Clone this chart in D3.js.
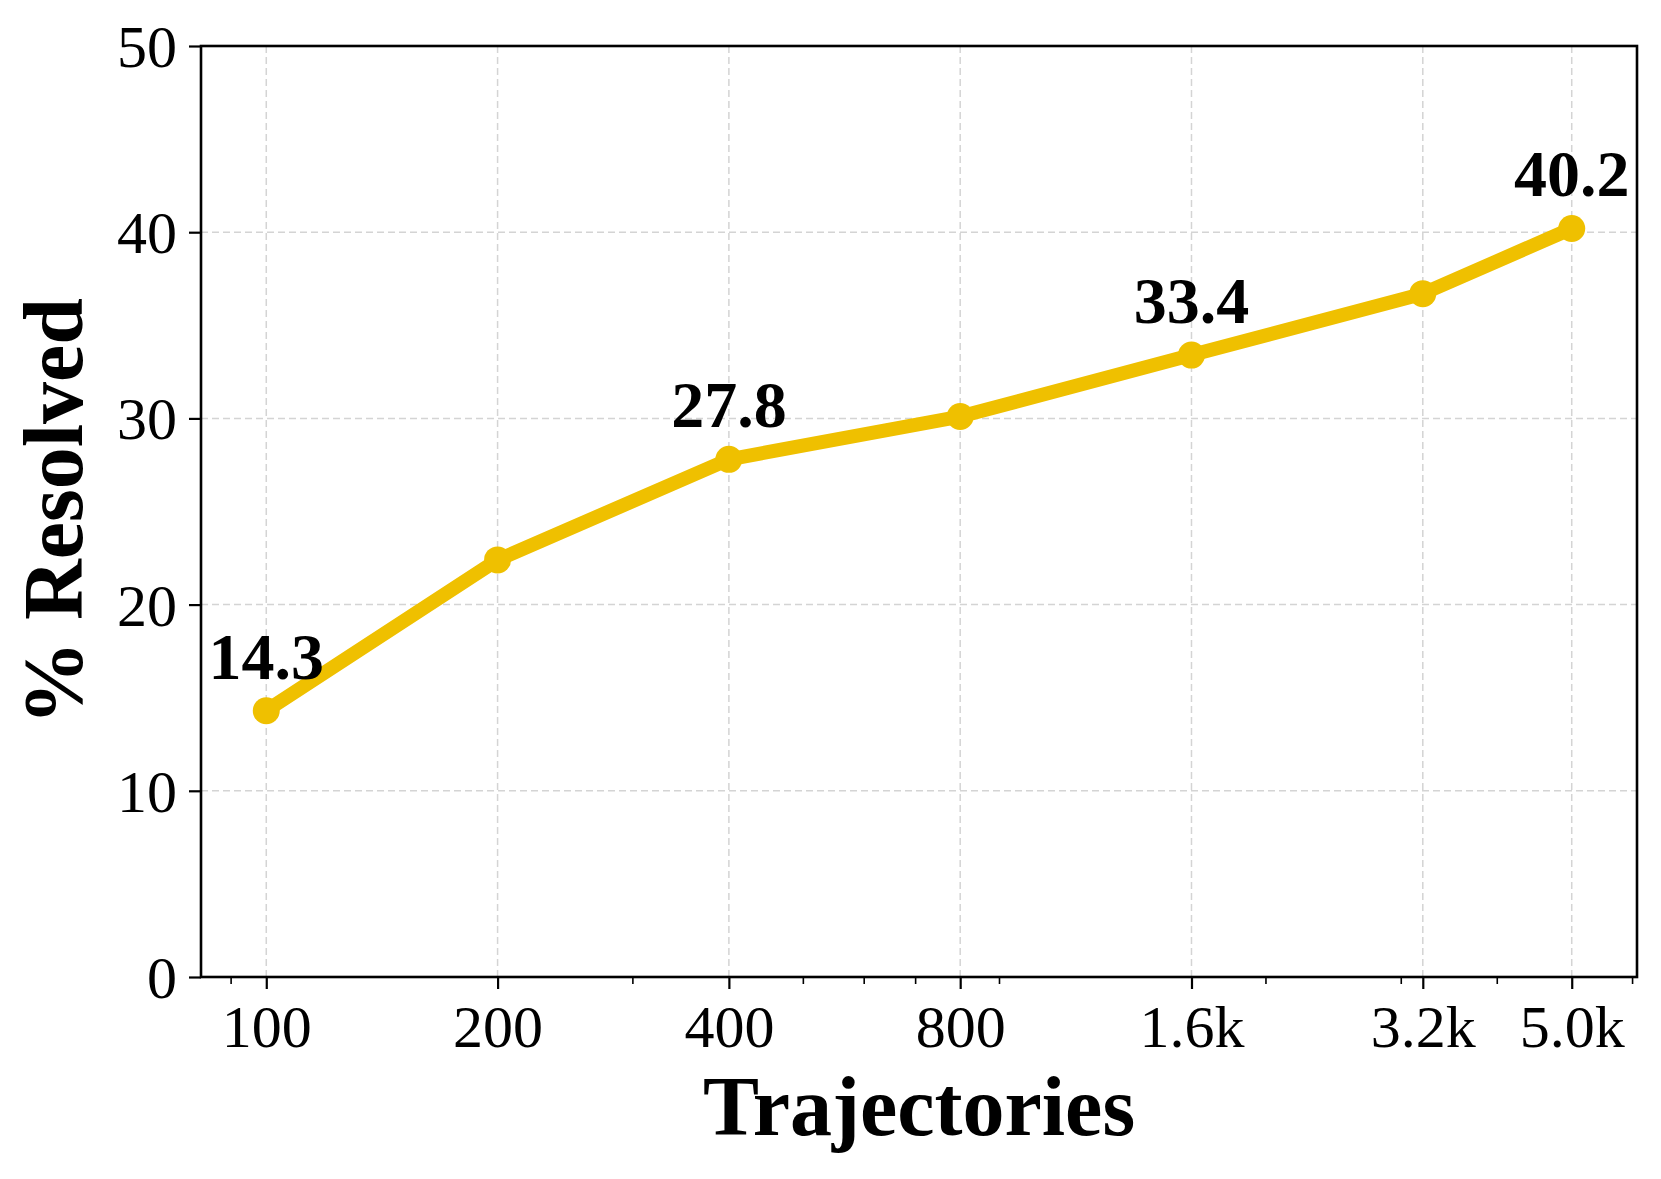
<!DOCTYPE html>
<html>
<head>
<meta charset="utf-8">
<script src="https://cdn.jsdelivr.net/npm/d3@7"></script>
<style>
  body { margin: 0; background: #fff; }
  svg { display: block; }
  text { font-family: "Liberation Serif", "Times New Roman", serif; fill: #000; }
</style>
</head>
<body>
<div id="chart"></div>
<script>
// data
const trajectories = [100, 200, 400, 800, 1600, 3200, 5000];
const resolved = [14.3, 22.4, 27.8, 30.1, 33.4, 36.7, 40.2];
const xTickLabels = ["100", "200", "400", "800", "1.6k", "3.2k", "5.0k"];
const yTicks = [0, 10, 20, 30, 40, 50];
const minorTicks = [90, 300, 500, 600, 700, 900, 2000, 3000, 4000, 6000];
const labeledPoints = [0, 2, 4, 6];

let width = 1661;
let height = 1179;
let margin = {left: 201, right: 24, top: 46, bottom: 202};
let w = width - margin.left - margin.right;
let h = height - margin.top - margin.bottom;
let lineColor = "#EFC000";

// log x with 5% padding on each side (like matplotlib margins)
let lo = d3.min(trajectories), hi = d3.max(trajectories);
let pad = Math.pow(hi / lo, 0.05);
let x = d3.scaleLog().domain([lo / pad, hi * pad]).range([0, w]);
let y = d3.scaleLinear().domain([0, 50]).range([h, 0]);

let svg = d3.select("#chart").append("svg")
    .attr("width", width)
    .attr("height", height);

let g = svg.append("g")
    .attr("transform", "translate(" + margin.left + "," + margin.top + ")");

// grid
g.append("g").selectAll("line")
    .data(trajectories)
  .enter().append("line")
    .attr("x1", d => x(d)).attr("x2", d => x(d))
    .attr("y1", 0).attr("y2", h)
    .attr("stroke", "#d4d4d4")
    .attr("stroke-width", 1.5)
    .attr("stroke-dasharray", "7,4");

g.append("g").selectAll("line")
    .data(yTicks)
  .enter().append("line")
    .attr("x1", 0).attr("x2", w)
    .attr("y1", d => y(d)).attr("y2", d => y(d))
    .attr("stroke", "#d4d4d4")
    .attr("stroke-width", 1.5)
    .attr("stroke-dasharray", "7,4");

// minor x ticks
g.append("g").selectAll("line")
    .data(minorTicks)
  .enter().append("line")
    .attr("x1", d => x(d)).attr("x2", d => x(d))
    .attr("y1", h).attr("y2", h + 7)
    .attr("stroke", "#000")
    .attr("stroke-width", 1.6);

// x axis
let xAxis = g.append("g")
    .attr("transform", "translate(0," + h + ")")
    .call(d3.axisBottom(x)
        .tickValues(trajectories)
        .tickFormat((d, i) => xTickLabels[i])
        .tickSize(12)
        .tickPadding(14));

// y axis
let yAxis = g.append("g")
    .call(d3.axisLeft(y)
        .tickValues(yTicks)
        .tickFormat(d3.format("d"))
        .tickSize(12)
        .tickPadding(12));

[xAxis, yAxis].forEach(a => {
    a.select(".domain").remove();
    a.selectAll(".tick line").attr("stroke", "#000").attr("stroke-width", 2.2);
    a.selectAll(".tick text")
        .style("font-family", "'Liberation Serif', serif")
        .style("font-size", "60px");
});
xAxis.selectAll(".tick text").attr("dy", "0.74em");
yAxis.selectAll(".tick text").attr("dy", "0.34em");

// frame
g.append("rect")
    .attr("x", 0).attr("y", 0)
    .attr("width", w).attr("height", h)
    .attr("fill", "none")
    .attr("stroke", "#000")
    .attr("stroke-width", 2.6);

// the line and markers
let line = d3.line()
    .x((d, i) => x(trajectories[i]))
    .y(d => y(d));

g.append("path")
    .datum(resolved)
    .attr("d", line)
    .attr("fill", "none")
    .attr("stroke", lineColor)
    .attr("stroke-width", 14)
    .attr("stroke-linejoin", "round");

g.append("g").selectAll("circle")
    .data(resolved)
  .enter().append("circle")
    .attr("cx", (d, i) => x(trajectories[i]))
    .attr("cy", d => y(d))
    .attr("r", 13.5)
    .attr("fill", lineColor);

// value labels
g.append("g").selectAll("text")
    .data(labeledPoints)
  .enter().append("text")
    .attr("x", i => x(trajectories[i]))
    .attr("y", i => y(resolved[i]) - 32)
    .attr("text-anchor", "middle")
    .style("font-size", "66px")
    .style("font-weight", "bold")
    .text(i => resolved[i].toFixed(1));

// axis titles
svg.append("text")
    .attr("x", margin.left + w / 2)
    .attr("y", 1135)
    .attr("text-anchor", "middle")
    .style("font-size", "84px")
    .style("font-weight", "bold")
    .text("Trajectories");

svg.append("text")
    .attr("transform", "translate(82," + (margin.top + h / 2) + ") rotate(-90)")
    .attr("text-anchor", "middle")
    .style("font-size", "84px")
    .style("font-weight", "bold")
    .text("% Resolved");
</script>
</body>
</html>
